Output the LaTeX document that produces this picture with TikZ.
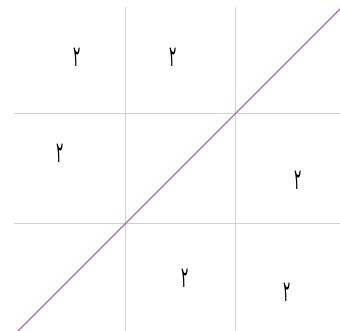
\documentclass[tikz,border=0pt]{standalone}
\usepackage{fontspec}
\newfontfamily\arabicfont[Script=Arabic]{DejaVu Sans}
\TeXXeTstate=1
\definecolor{gridgray}{RGB}{208,210,214}
\definecolor{diagpink}{RGB}{175,105,170}

\newcommand{\twofa}{\scalebox{0.8}[1.7]{\beginR ۲\endR}}

\begin{document}
\begin{tikzpicture}[
        x=1pt, y=-1pt,
        gridline/.style={draw=gridgray, line width=1pt},
        diag/.style={draw=diagpink, line width=1.1pt},
        digit/.style={font=\arabicfont\fontsize{17}{17}\selectfont, inner sep=0pt}
    ]
        \useasboundingbox (0, 0) rectangle (340, 331);

        % Grid
        \draw[gridline] (125, 7) -- (125, 331);
        \draw[gridline] (235, 7) -- (235, 331);
        \draw[gridline] (14, 114) -- (340, 114);
        \draw[gridline] (14, 224) -- (340, 224);

        % Diagonal
        \coordinate (lo) at (15, 334);
        \coordinate (hi) at (340, 9);
        \draw[diag] (lo) -- (hi);

        % Labels
        \node[digit] (a) at (77, 57) {\twofa};
        \node[digit] (b) at (173, 57) {\twofa};
        \node[digit] (c) at (60, 153) {\twofa};
        \node[digit] (d) at (298, 180) {\twofa};
        \node[digit] (e) at (185, 278) {\twofa};
        \node[digit] (f) at (287, 292) {\twofa};

    \end{tikzpicture}
\end{document}
